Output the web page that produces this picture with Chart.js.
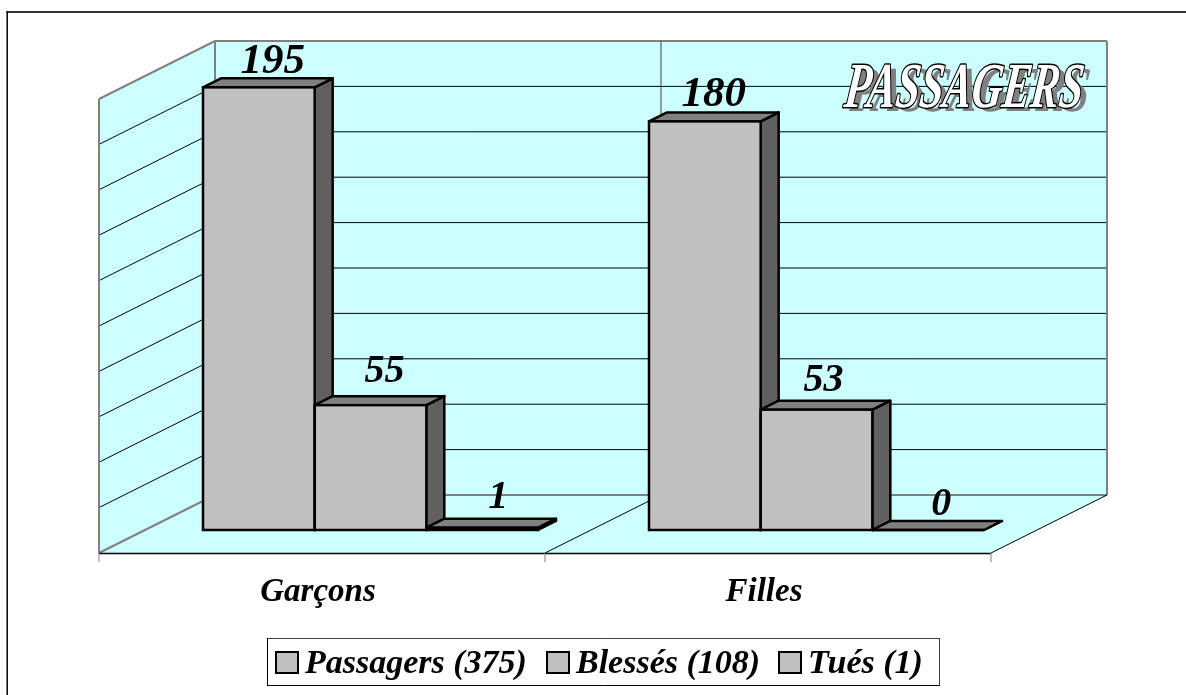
<!DOCTYPE html>
<html>
<head>
<meta charset="utf-8">
<title>Passagers</title>
<script src="https://cdn.jsdelivr.net/npm/chart.js@4/dist/chart.umd.min.js"></script>
<style>
html,body{margin:0;padding:0;background:#fff;overflow:hidden}
canvas{display:block}
</style>
</head>
<body>
<canvas id="grafica" width="1186" height="695"></canvas>
<script>
var categories = ['Garçons', 'Filles'];
var passagers = [195, 180];
var blesses = [55, 53];
var tues = [1, 0];
var seriesNames = ['Passagers (375)', 'Blessés (108)', 'Tués (1)'];
var yTicks = [0, 20, 40, 60, 80, 100, 120, 140, 160, 180, 200];
var title = 'PASSAGERS';

var SERIF = '"Liberation Serif", "Times New Roman", serif';
var WALL = '#CCFFFF', GRAY = '#808080', BAR = '#C0C0C0', TOP = '#808080', SIDE = '#606060';
// the bars stand halfway in the floor, walls are the same scale pushed back / forward
var BACK = {x: 67.5, y: -35};
var FRONT = {x: -48.5, y: 23};
var BAR_DEPTH = {x: 18, y: -9};
// small hand placed offsets of the value labels, [dx, dy] per series and category
var labelNudge = [[[14, -14], [9, -15]], [[14, -23], [7, -19]], [[16, -20], [13, -15]]];
var labelSize = [43, 40, 40];
var legendX = [276, 547, 779];

function line(ctx, x1, y1, x2, y2, color, w) {
    ctx.strokeStyle = color;
    ctx.lineWidth = w;
    ctx.beginPath();
    ctx.moveTo(x1, y1);
    ctx.lineTo(x2, y2);
    ctx.stroke();
}
function poly(ctx, pts, fill, stroke, w) {
    ctx.beginPath();
    ctx.moveTo(pts[0][0], pts[0][1]);
    for (var i = 1; i < pts.length; i++) ctx.lineTo(pts[i][0], pts[i][1]);
    ctx.closePath();
    if (fill) { ctx.fillStyle = fill; ctx.fill(); }
    if (stroke) { ctx.strokeStyle = stroke; ctx.lineWidth = w; ctx.lineJoin = 'round'; ctx.stroke(); }
}

var frame3d = {
    id: 'frame3d',
    beforeDatasetsDraw: function(chart) {
        var ctx = chart.ctx, a = chart.chartArea, y = chart.scales.y;
        var fl = a.left + FRONT.x, fr = a.right + FRONT.x, fb = a.bottom + FRONT.y;
        var bl = a.left + BACK.x, br = a.right + BACK.x, bb = a.bottom + BACK.y, bt = a.top + BACK.y;
        var ft = a.top + FRONT.y;
        var mid = (fl + fr) / 2;
        ctx.save();
        // outer frame, only top and left are in the picture
        line(ctx, 6.5, 12, 1186, 12, '#333', 2);
        line(ctx, 7.2, 11, 7.2, 695, '#000', 1.5);
        // walls and floor
        poly(ctx, [[bl, bt], [br, bt], [br, bb], [bl, bb]], WALL);
        poly(ctx, [[fl, ft], [bl, bt], [bl, bb], [fl, fb]], WALL);
        poly(ctx, [[fl, fb], [bl, bb], [br, bb], [fr, fb]], WALL);
        // gridlines from the value axis
        yTicks.forEach(function(t) {
            var p = y.getPixelForValue(t);
            var col = (t === 0 || t === yTicks[yTicks.length - 1]) ? GRAY : '#000';
            var w = col === GRAY ? 2 : 1;
            line(ctx, bl, p + BACK.y, br, p + BACK.y, col, w);
            line(ctx, fl, p + FRONT.y, bl, p + BACK.y, col, w);
        });
        line(ctx, fl, ft, fl, fb, GRAY, 2);
        line(ctx, bl, bt, bl, bb, GRAY, 2);
        line(ctx, br, bt, br, bb, GRAY, 2);
        line(ctx, (bl + br) / 2, bt, (bl + br) / 2, bb, '#404040', 1);
        // floor edges
        line(ctx, mid, fb, (bl + br) / 2, bb, '#000', 1);
        line(ctx, fr, fb, br, bb, '#000', 1);
        line(ctx, fl, fb + 0.5, fr, fb + 0.5, '#000', 1.5);
        [fl, mid, fr].forEach(function(x) {
            line(ctx, x, fb, x, fb + 9, GRAY, 1);
        });
        // side and top faces, series by series so each covers the one before
        chart.data.datasets.forEach(function(ds, i) {
            chart.getDatasetMeta(i).data.forEach(function(bar) {
                var p = bar.getProps(['x', 'y', 'base', 'width'], true);
                var l = p.x - p.width / 2, r = p.x + p.width / 2;
                var dx = BAR_DEPTH.x, dy = BAR_DEPTH.y;
                poly(ctx, [[r, p.y], [r + dx, p.y + dy], [r + dx, p.base + dy], [r, p.base]], SIDE, '#000', 2.5);
                poly(ctx, [[l, p.y], [l + dx, p.y + dy], [r + dx, p.y + dy], [r, p.y]], TOP, '#000', 2.5);
            });
        });
        ctx.restore();
    },
    afterDatasetsDraw: function(chart) {
        var ctx = chart.ctx;
        ctx.save();
        // front outlines
        ctx.strokeStyle = '#000';
        ctx.lineWidth = 2.5;
        chart.data.datasets.forEach(function(ds, i) {
            chart.getDatasetMeta(i).data.forEach(function(bar) {
                var p = bar.getProps(['x', 'y', 'base', 'width'], true);
                ctx.strokeRect(p.x - p.width / 2, p.y, p.width, p.base - p.y);
            });
        });
        // value labels
        ctx.fillStyle = '#000';
        ctx.textAlign = 'center';
        ctx.textBaseline = 'alphabetic';
        chart.data.datasets.forEach(function(ds, i) {
            ctx.font = 'italic bold ' + labelSize[i] + 'px ' + SERIF;
            chart.getDatasetMeta(i).data.forEach(function(bar, j) {
                var p = bar.getProps(['x', 'y'], true);
                var n = labelNudge[i][j];
                ctx.fillText(String(ds.data[j]), p.x + n[0], p.y + n[1]);
            });
        });
        // chart title, squeezed outline lettering with a shadow
        ctx.font = 'italic bold 64px ' + SERIF;
        ctx.textAlign = 'left';
        ctx.save();
        ctx.transform(0.665, 0, -0.12, 1, 849, 111);
        ctx.fillStyle = GRAY;
        ctx.fillText(title, 0, 0);
        ctx.restore();
        ctx.save();
        ctx.transform(0.665, 0, -0.12, 1, 843, 106.5);
        ctx.lineWidth = 3;
        ctx.strokeStyle = '#000';
        ctx.lineJoin = 'round';
        ctx.strokeText(title, 0, 0);
        ctx.fillStyle = '#fff';
        ctx.fillText(title, 0, 0);
        ctx.restore();
        // legend
        ctx.fillStyle = '#fff';
        ctx.fillRect(267, 638, 672, 47);
        line(ctx, 267, 638.5, 939.5, 638.5, '#404040', 1);
        line(ctx, 939.5, 638, 939.5, 685, '#404040', 1);
        line(ctx, 267.5, 638, 267.5, 685.5, '#000', 1);
        line(ctx, 267, 685.5, 940, 685.5, '#000', 1);
        ctx.font = 'italic bold 34px ' + SERIF;
        seriesNames.forEach(function(name, i) {
            var x = legendX[i];
            ctx.fillStyle = BAR;
            ctx.fillRect(x, 652, 22, 21);
            ctx.strokeStyle = '#000';
            ctx.lineWidth = 2;
            ctx.strokeRect(x, 652, 22, 21);
            ctx.fillStyle = '#000';
            ctx.fillText(name, x + 29, 673);
        });
        ctx.restore();
    }
};

var series = [passagers, blesses, tues];
var grafica = document.getElementById('grafica');
var myChart = new Chart(grafica, {
    type: 'bar',
    data: {
        labels: categories,
        datasets: series.map(function(vals, i) {
            return {
                label: seriesNames[i],
                data: vals,
                backgroundColor: BAR,
                borderWidth: 0,
                barPercentage: 1,
                categoryPercentage: 0.7511
            };
        })
    },
    options: {
        responsive: false,
        animation: false,
        devicePixelRatio: 1,
        layout: {padding: {left: 147.5, right: 146.5, top: 76, bottom: 60}},
        plugins: {legend: {display: false}, title: {display: false}, tooltip: {enabled: false}},
        scales: {
            x: {
                grid: {display: false},
                border: {display: false},
                ticks: {
                    color: '#000',
                    font: {family: SERIF, size: 33, style: 'italic', weight: 'bold'},
                    padding: 35,
                    labelOffset: -52.5,
                    maxRotation: 0
                },
                afterFit: function(s) { s.height = 105; }
            },
            y: {
                min: yTicks[0],
                max: yTicks[yTicks.length - 1],
                ticks: {display: false, stepSize: yTicks[1] - yTicks[0]},
                grid: {display: false},
                border: {display: false},
                afterFit: function(s) { s.width = 0; }
            }
        }
    },
    plugins: [frame3d]
});
</script>
</body>
</html>
